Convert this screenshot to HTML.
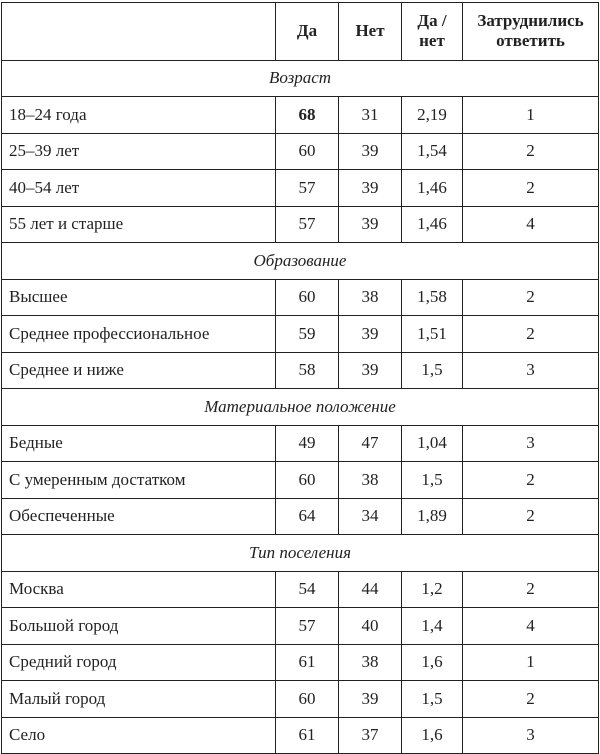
<!DOCTYPE html>
<html><head><meta charset="utf-8"><style>
html,body{margin:0;padding:0;background:#fff;width:600px;height:754px;overflow:hidden}
table{position:absolute;left:1px;top:2px;border-collapse:collapse;font-family:"Liberation Serif","DejaVu Serif",serif;font-size:17px;color:#222}
td{border:1.6px solid #222;padding:0;height:35.5px;text-align:center}
td:first-child{text-align:left;padding-left:7px;width:266px}
td:nth-child(2){width:62px}td:nth-child(3){width:62px}td:nth-child(4){width:60px}td:nth-child(5){width:135px}
tr.h td{height:56.5px;font-weight:bold;line-height:20px}
tr.s td{text-align:center;font-style:italic;padding-left:0}
</style></head><body>
<table>
<tr class="h"><td></td><td>Да</td><td>Нет</td><td>Да /<br>нет</td><td>Затруднились<br>ответить</td></tr>
<tr class="s"><td colspan="5">Возраст</td></tr>
<tr><td>18–24 года</td><td><b>68</b></td><td>31</td><td>2,19</td><td>1</td></tr>
<tr><td>25–39 лет</td><td>60</td><td>39</td><td>1,54</td><td>2</td></tr>
<tr><td>40–54 лет</td><td>57</td><td>39</td><td>1,46</td><td>2</td></tr>
<tr><td>55 лет и старше</td><td>57</td><td>39</td><td>1,46</td><td>4</td></tr>
<tr class="s"><td colspan="5">Образование</td></tr>
<tr><td>Высшее</td><td>60</td><td>38</td><td>1,58</td><td>2</td></tr>
<tr><td>Среднее профессиональное</td><td>59</td><td>39</td><td>1,51</td><td>2</td></tr>
<tr><td>Среднее и ниже</td><td>58</td><td>39</td><td>1,5</td><td>3</td></tr>
<tr class="s"><td colspan="5">Материальное положение</td></tr>
<tr><td>Бедные</td><td>49</td><td>47</td><td>1,04</td><td>3</td></tr>
<tr><td>С умеренным достатком</td><td>60</td><td>38</td><td>1,5</td><td>2</td></tr>
<tr><td>Обеспеченные</td><td>64</td><td>34</td><td>1,89</td><td>2</td></tr>
<tr class="s"><td colspan="5">Тип поселения</td></tr>
<tr><td>Москва</td><td>54</td><td>44</td><td>1,2</td><td>2</td></tr>
<tr><td>Большой город</td><td>57</td><td>40</td><td>1,4</td><td>4</td></tr>
<tr><td>Средний город</td><td>61</td><td>38</td><td>1,6</td><td>1</td></tr>
<tr><td>Малый город</td><td>60</td><td>39</td><td>1,5</td><td>2</td></tr>
<tr><td>Село</td><td>61</td><td>37</td><td>1,6</td><td>3</td></tr>
</table>
</body></html>
